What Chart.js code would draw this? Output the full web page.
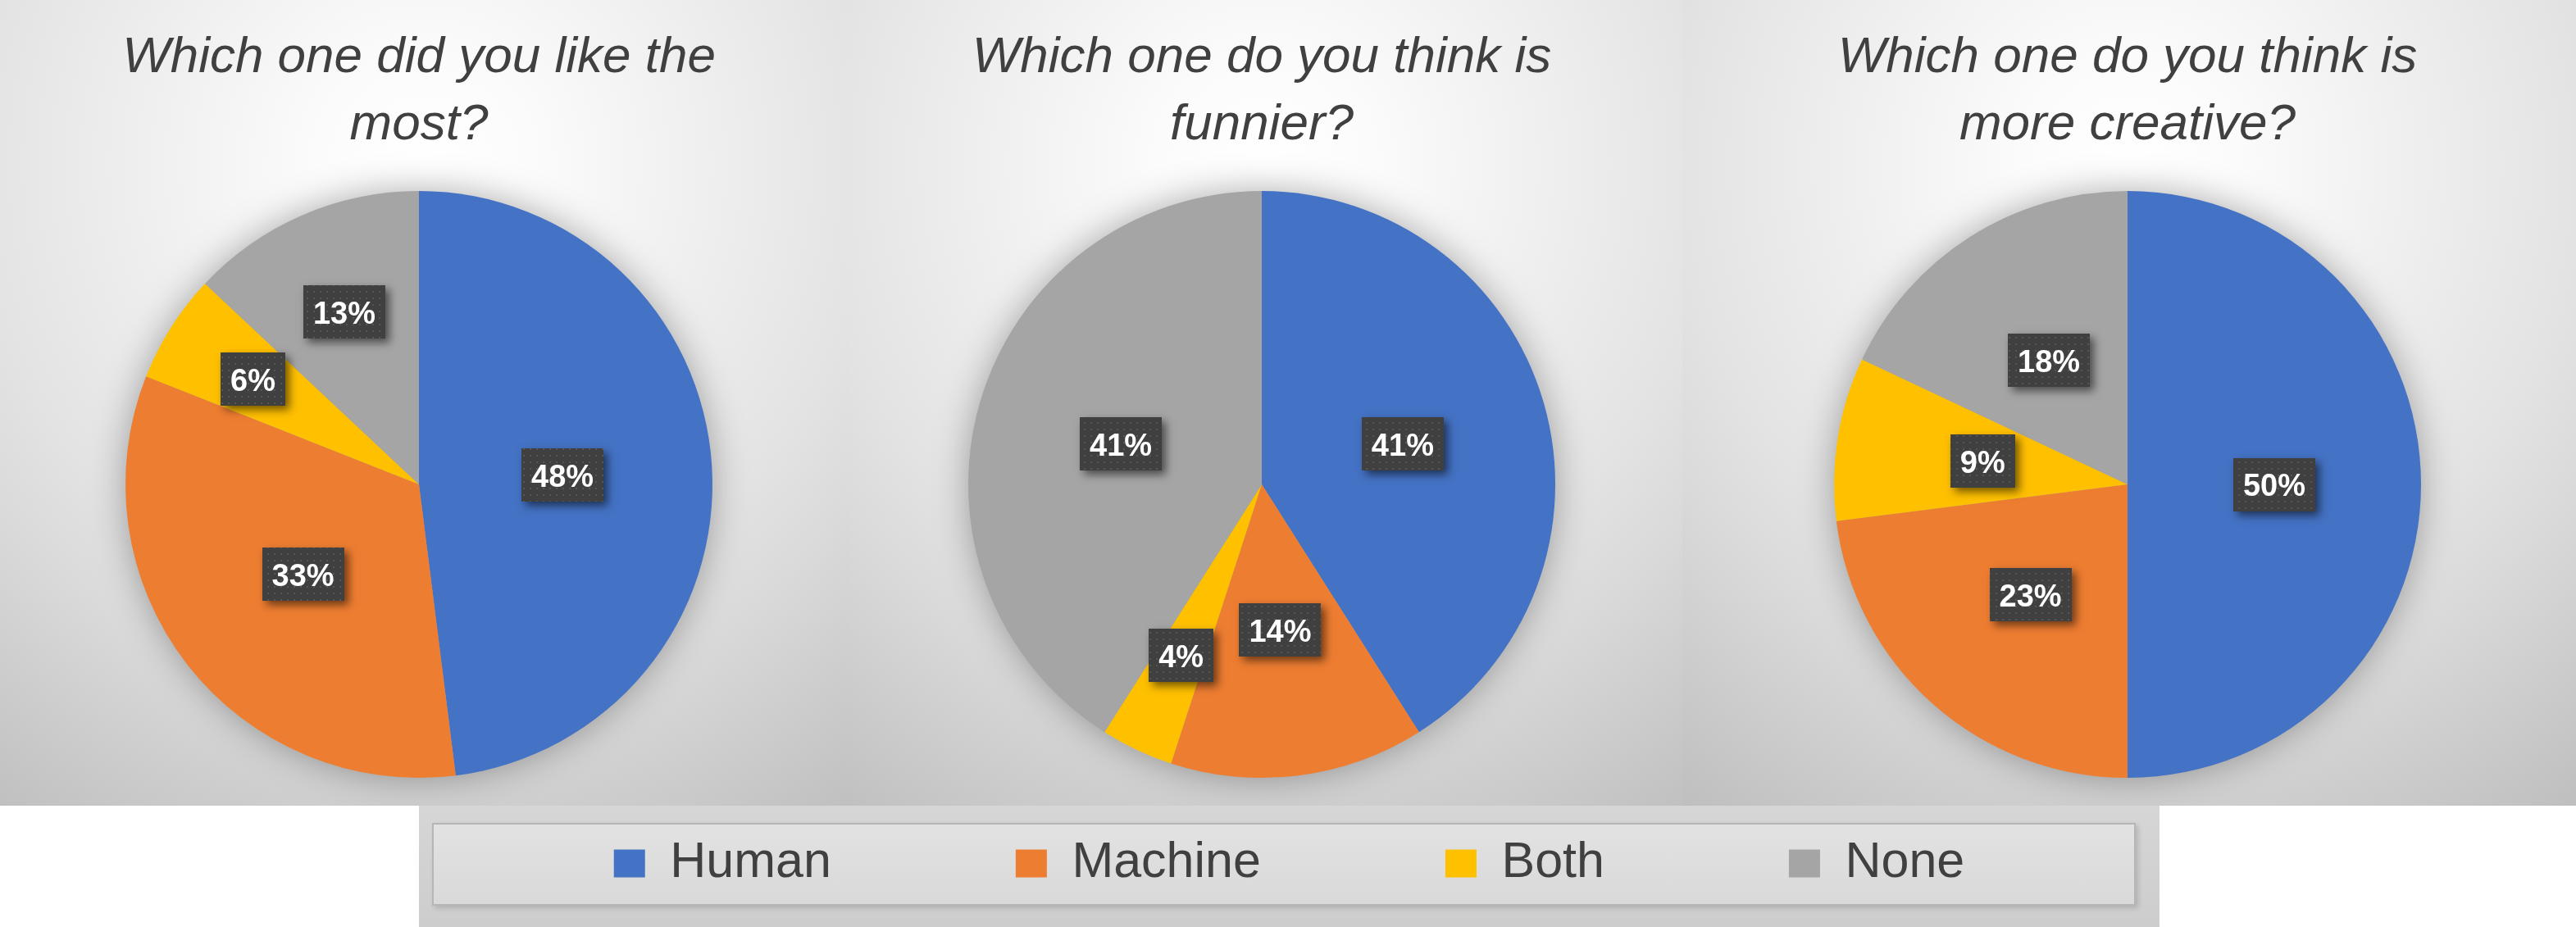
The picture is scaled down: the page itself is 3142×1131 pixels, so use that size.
<!DOCTYPE html>
<html><head><meta charset="utf-8">
<script src="https://cdn.jsdelivr.net/npm/chart.js@4/dist/chart.umd.min.js"></script>
<style>
html,body{margin:0;padding:0;background:#fff;}
#stage{position:relative;width:3142px;height:1131px;overflow:hidden;background:#fff;}
.panel{position:absolute;top:0;height:983px;
  background: radial-gradient(circle 950px at 50% 200px, #ffffff 0%, #fbfbfb 14%, #e3e3e3 58%, #dadada 70%, #bfbfbf 100%);}
#p1{left:0;width:1035px;} #p2{left:1035px;width:1017px;} #p3{left:2052px;width:1090px;}
#legbg{position:absolute;left:511px;top:983px;width:2123px;height:148px;background:linear-gradient(#d6d6d6,#cdcdcd);}
#leginner{position:absolute;left:527px;top:1004px;width:2074px;height:97px;border:2px solid #b6b6b6;
  background:linear-gradient(#e2e2e2,#d9d9d9);box-shadow:3px 3px 6px rgba(0,0,0,0.15);}
canvas{position:absolute;}
</style></head>
<body>
<div id="stage">
  <div class="panel" id="p1"></div>
  <div class="panel" id="p2"></div>
  <div class="panel" id="p3"></div>
  <div id="legbg"></div>
  <div id="leginner"></div>
  <canvas id="c1" width="1000" height="983" style="left:11px;top:0"></canvas>
  <canvas id="c2" width="1000" height="983" style="left:1039px;top:0"></canvas>
  <canvas id="c3" width="1000" height="983" style="left:2095px;top:0"></canvas>
  <canvas id="cl" width="2123" height="660" style="left:511px;top:798px"></canvas>
</div>
<script>
// ---- data ----
const categories = ['Human', 'Machine', 'Both', 'None'];
const likedMost = [48, 33, 6, 13];
const funnier = [41, 14, 4, 41];
const moreCreative = [50, 23, 9, 18];
const titleLiked = ['Which one did you like the', 'most?'];
const titleFunnier = ['Which one do you think is', 'funnier?'];
const titleCreative = ['Which one do you think is', 'more creative?'];

// ---- styles ----
const colors = ['#4472C4', '#ED7D31', '#FFC000', '#A5A5A5'];
const labelRadii1 = [0.49, 0.5, 0.67, 0.64];
const labelRadii2 = [0.5, 0.5, 0.645, 0.5];
const labelRadii3 = [0.5, 0.5, 0.5, 0.5];

const dotPattern = (() => {
  const c = document.createElement('canvas'); c.width = 8; c.height = 8;
  const x = c.getContext('2d');
  x.fillStyle = '#404040'; x.fillRect(0, 0, 8, 8);
  x.fillStyle = '#565656'; x.fillRect(3, 3, 2, 2);
  return c;
})();

const shadowPlugin = {
  id: 'pieShadow',
  beforeDatasetsDraw(chart) {
    const a = chart.getDatasetMeta(0).data[0];
    if (!a) return;
    const p = a.getProps(['x', 'y', 'outerRadius'], true);
    const ctx = chart.ctx;
    ctx.save();
    ctx.shadowColor = 'rgba(0,0,0,0.35)';
    ctx.shadowBlur = 45;
    ctx.fillStyle = '#a0a0a0';
    ctx.beginPath();
    ctx.arc(p.x, p.y, p.outerRadius - 2, 0, Math.PI * 2);
    ctx.fill();
    ctx.restore();
  }
};

function makeLabelPlugin(radii) {
  return {
    id: 'boxLabels',
    afterDatasetsDraw(chart) {
      const ctx = chart.ctx;
      const meta = chart.getDatasetMeta(0);
      const values = chart.data.datasets[0].data;
      const pat = ctx.createPattern(dotPattern, 'repeat');
      ctx.save();
      ctx.font = 'bold 38px "Liberation Sans"';
      meta.data.forEach((arc, i) => {
        const p = arc.getProps(['x', 'y', 'startAngle', 'endAngle', 'outerRadius'], true);
        const mid = (p.startAngle + p.endAngle) / 2;
        const r = p.outerRadius * radii[i];
        const cx = p.x + Math.cos(mid) * r, cy = p.y + Math.sin(mid) * r;
        const text = values[i] + '%';
        const tw = ctx.measureText(text).width;
        const w = Math.round(tw + 24), h = 65;
        const bx = Math.round(cx - w / 2), by = Math.round(cy - h / 2);
        ctx.save();
        ctx.shadowColor = 'rgba(0,0,0,0.55)';
        ctx.shadowBlur = 10; ctx.shadowOffsetX = 5; ctx.shadowOffsetY = 5;
        ctx.fillStyle = '#404040';
        ctx.fillRect(bx, by, w, h);
        ctx.restore();
        ctx.fillStyle = pat;
        ctx.fillRect(bx, by, w, h);
        ctx.fillStyle = '#ffffff';
        ctx.textAlign = 'center';
        ctx.textBaseline = 'middle';
        ctx.fillText(text, cx, cy + 4);
      });
      ctx.restore();
    }
  };
}

function makePie(id, values, title, radii) {
  return new Chart(document.getElementById(id), {
    type: 'pie',
    data: {
      labels: categories,
      datasets: [{ data: values, backgroundColor: colors, borderWidth: 0, hoverOffset: 0, offset: 0 }]
    },
    options: {
      responsive: false,
      animation: false,
      events: [],
      layout: { padding: { top: 0, bottom: 34, left: 0, right: 0 } },
      plugins: {
        legend: { display: false },
        tooltip: { enabled: false },
        title: {
          display: true,
          text: title,
          color: '#404040',
          font: { family: 'Liberation Sans', size: 62, style: 'italic', weight: 'normal', lineHeight: 82 / 62 },
          padding: { top: 30, bottom: 39 }
        }
      }
    },
    plugins: [shadowPlugin, makeLabelPlugin(radii)]
  });
}

makePie('c1', likedMost, titleLiked, labelRadii1);
makePie('c2', funnier, titleFunnier, labelRadii2);
makePie('c3', moreCreative, titleCreative, labelRadii3);

// legend-only chart
new Chart(document.getElementById('cl'), {
  type: 'pie',
  data: {
    labels: categories,
    datasets: [{ data: likedMost, backgroundColor: colors, borderWidth: 0, radius: 0, hoverOffset: 0 }]
  },
  options: {
    responsive: false,
    animation: false,
    events: [],
    plugins: {
      tooltip: { enabled: false },
      title: { display: false },
      legend: {
        display: true,
        position: 'top',
        align: 'center',
        labels: {
          boxWidth: 38,
          boxHeight: 34,
          padding: 225,
          color: '#404040',
          font: { family: 'Liberation Sans', size: 61 }
        }
      }
    }
  }
});
</script>
</body></html>
